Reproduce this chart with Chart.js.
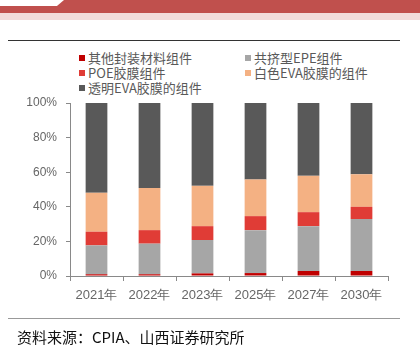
<!DOCTYPE html>
<html>
<head>
<meta charset="utf-8">
<script src="https://cdn.jsdelivr.net/npm/chart.js@4/dist/chart.umd.min.js"></script>
<style>
    html, body { margin: 0; padding: 0; background: #fff; }
    #wrap { position: relative; width: 420px; height: 351px; overflow: hidden; font-family: "Noto Sans CJK SC", sans-serif; }
    #chart { position: absolute; left: 0; top: 0; }
    .band { position: absolute; left: 0; top: 0; width: 420px; height: 13px; background: #C0504D; }
    .notch { position: absolute; left: 0; top: 0; width: 64px; height: 6px; background: #fff; clip-path: polygon(0 0, 100% 0, 89% 100%, 0 100%); }
    .pink { position: absolute; left: 0; top: 13px; width: 420px; height: 7px; background: #F2DCDB; }
    .rule { position: absolute; left: 8px; width: 392px; height: 1px; }
    #legend { position: absolute; left: 79px; top: 50px; width: 330px; }
    .item { position: absolute; font-size: 13px; color: #595959; line-height: 15px; white-space: nowrap; }
    .item i { display: inline-block; width: 6px; height: 6px; margin-right: 3px; vertical-align: 2px; }
    #source { position: absolute; left: 17px; top: 327px; font-size: 15px; color: #111; line-height: 20px; }
</style>
</head>
<body>
<div id="wrap">
    <div class="band"></div>
    <div class="notch"></div>
    <div class="pink"></div>
    <div class="rule" style="top:40px; background:#333;"></div>
    <div id="legend"></div>
    <canvas id="chart" width="420" height="351"></canvas>
    <div class="rule" style="top:318px; background:#999;"></div>
    <div id="source">资料来源：CPIA、山西证券研究所</div>
</div>
<script>
// ---------- DATA ----------
const years = ['2021年', '2022年', '2023年', '2025年', '2027年', '2030年'];
const seriesNames = ['其他封装材料组件', '共挤型EPE组件', 'POE胶膜组件', '白色EVA胶膜的组件', '透明EVA胶膜的组件'];
const otherPkg = [1.0, 1.0, 1.5, 1.7, 2.9, 2.9];
const epe = [16.7, 17.7, 19.3, 24.8, 25.9, 30.0];
const poe = [7.9, 7.8, 8.0, 8.1, 8.1, 7.1];
const whiteEva = [22.5, 24.3, 23.3, 21.2, 21.0, 18.8];
const clearEva = [51.9, 49.2, 47.9, 44.2, 42.1, 41.2];
const yTicks = [0, 20, 40, 60, 80, 100];

const colors = ['#C00000', '#A6A6A6', '#E03C36', '#F4B183', '#595959'];
const seriesData = [otherPkg, epe, poe, whiteEva, clearEva];

// ---------- LEGEND (2 columns) ----------
const legend = document.getElementById('legend');
seriesNames.forEach((name, i) => {
    const div = document.createElement('div');
    div.className = 'item';
    div.style.left = (i % 2 ? 166 : 0) + 'px';
    div.style.top = (Math.floor(i / 2) * 15) + 'px';
    div.innerHTML = `<i style="background:${colors[i]}"></i>${name}`;
    legend.appendChild(div);
});

// ---------- CHART ----------
const axisColor = '#898989';
const labelColor = '#666666';
const fontFamily = '"Liberation Sans", Arial, sans-serif';

new Chart(document.getElementById('chart'), {
    type: 'bar',
    data: {
        labels: years,
        datasets: seriesNames.map((name, i) => ({
            label: name,
            data: seriesData[i],
            backgroundColor: colors[i],
            borderWidth: 0,
            categoryPercentage: 1,
            barPercentage: 0.41
        }))
    },
    options: {
        responsive: false,
        animation: false,
        layout: { padding: { top: 103, left: 0, right: 32, bottom: 45 } },
        plugins: { legend: { display: false }, tooltip: { enabled: false } },
        scales: {
            x: {
                stacked: true,
                grid: { display: true, drawOnChartArea: false, tickLength: 5, color: axisColor, offset: true },
                border: { color: axisColor },
                ticks: { color: labelColor, font: { family: fontFamily, size: 13 }, padding: 7, maxRotation: 0 },
                afterFit: s => { s.height = 30; }
            },
            y: {
                stacked: true,
                min: 0,
                max: 100,
                afterBuildTicks: s => { s.ticks = yTicks.map(v => ({ value: v })); },
                grid: { display: true, drawOnChartArea: false, tickLength: 4, color: axisColor },
                border: { color: axisColor },
                ticks: { color: labelColor, font: { family: fontFamily, size: 12 }, padding: 9, callback: v => v + '%' },
                afterFit: s => { s.width = 70; }
            }
        }
    }
});
</script>
</body>
</html>
